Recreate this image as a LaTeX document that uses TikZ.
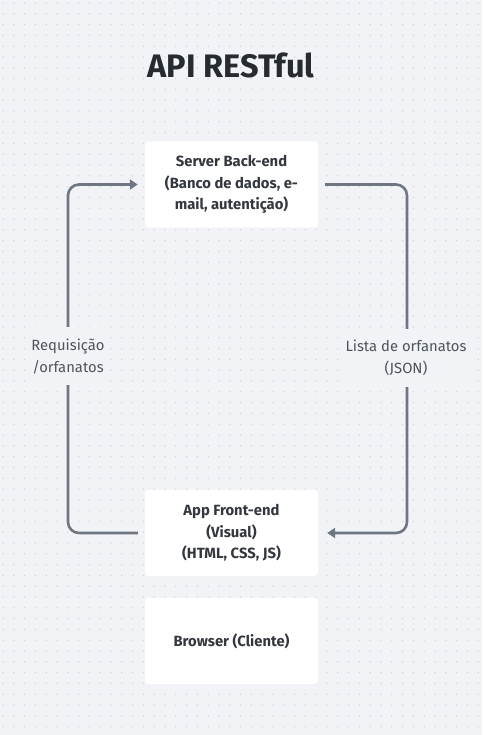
\documentclass[tikz,border=0pt]{standalone}
\usepackage{fontspec}
\setmainfont{Fira Sans}
\definecolor{bg}{HTML}{F1F3F6}
\definecolor{dotc}{HTML}{CDD2D9}
\definecolor{linec}{HTML}{6E7681}
\definecolor{boxtext}{HTML}{33373E}
\definecolor{titlec}{HTML}{262A31}
\definecolor{labc}{HTML}{4E545C}
\usetikzlibrary{arrows.meta}
\begin{document}
\begin{tikzpicture}[x=1pt,y=-1pt,
  card/.style={fill=white, rounded corners=3pt, minimum width=173pt, minimum height=86pt,
    align=center, text=boxtext, font=\fontsize{14.8}{21.5}\selectfont\bfseries, inner sep=0pt},
  conn/.style={draw=linec, line width=2.6pt, rounded corners=11pt},
  tip/.style={-{Triangle[length=8pt,width=10pt]}},
  clabel/.style={fill=bg, align=center, text=labc, font=\fontsize{14.8}{22}\selectfont,
    inner xsep=3pt, inner ysep=11pt}]
\useasboundingbox (0,0) rectangle (482,735);
\fill[bg] (0,0) rectangle (482,735);
\foreach \i in {0,...,44} {
  \foreach \j in {0,...,68} {
    \fill[dotc] (3+\i*10.8, 3+\j*10.8) circle (0.75pt);
  }
}
\node[text=titlec, font=\fontsize{32.5}{38}\selectfont\bfseries] (title) at (231,65) {API RESTful};
\node[card] (server) at (231.5,184.5) {Server Back-end\\(Banco de dados, e-\\mail, autentição)};
\node[card] (app) at (231.5,533) {App Front-end\\(Visual)\\(HTML, CSS, JS)};
\node[card] (browser) at (231.5,641) {Browser (Cliente)};
\coordinate (a1) at ([xshift=-7pt]app.west);
\coordinate (a2) at ([xshift=-7pt]server.west);
\coordinate (b1) at ([xshift=7pt]server.east);
\coordinate (b2) at ([xshift=9pt]app.east);
\coordinate (lbl) at (68,533);
\coordinate (ltl) at (68,184.5);
\coordinate (rtr) at (407,184.5);
\coordinate (rbr) at (407,533);
\draw[conn, tip] (a1) -- (lbl) -- (ltl) -- (a2);
\draw[conn, tip] (b1) -- (rtr) -- (rbr) -- (b2);
\node[clabel] (req) at (68,356) {Requisição\\/orfanatos};
\node[clabel] (lista) at (406,358) {Lista de orfanatos\\(JSON)};
\end{tikzpicture}
\end{document}
